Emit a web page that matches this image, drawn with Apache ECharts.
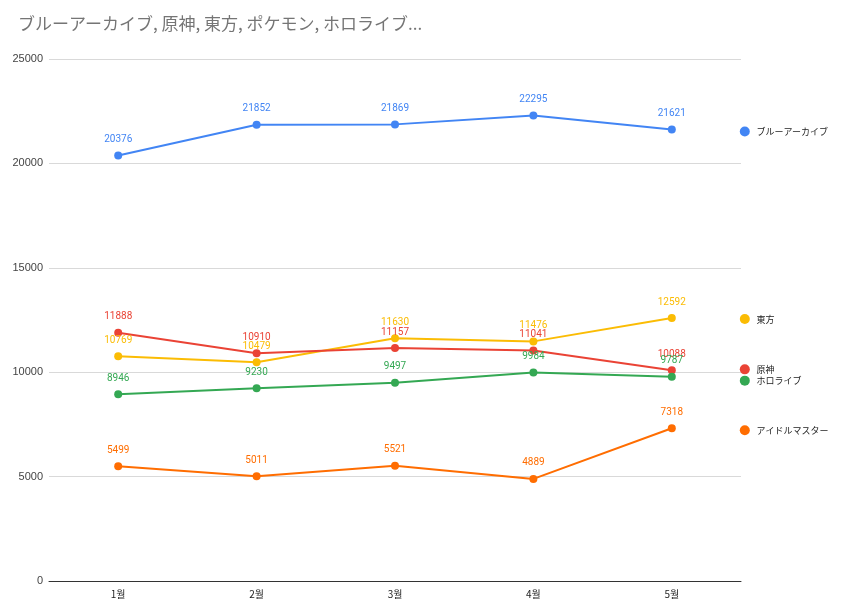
<!DOCTYPE html>
<html><head><meta charset="utf-8">
<script src="https://cdn.jsdelivr.net/npm/echarts@6/dist/echarts.min.js"></script>
<style>html,body{margin:0;padding:0;background:#fff}#c{width:850px;height:616px}</style>
</head><body><div id="c"></div>
<script>
const titleText = 'ブルーアーカイブ, 原神, 東方, ポケモン, ホロライブ...';
const categories = ['1월', '2월', '3월', '4월', '5월'];
const yTicks = [0, 5000, 10000, 15000, 20000, 25000];
const blueArchive = [20376, 21852, 21869, 22295, 21621];
const genshin = [11888, 10910, 11157, 11041, 10088];
const touhou = [10769, 10479, 11630, 11476, 12592];
const hololive = [8946, 9230, 9497, 9984, 9787];
const idolmaster = [5499, 5011, 5521, 4889, 7318];

const seriesDefs = [
  {name: 'ブルーアーカイブ', data: blueArchive, color: '#4285F4', endOffset: [0, 2]},
  {name: '東方', data: touhou, color: '#FBBC04', endOffset: [0, 1]},
  {name: '原神', data: genshin, color: '#EA4335', endOffset: [0, -1]},
  {name: 'ホロライブ', data: hololive, color: '#34A853', endOffset: [0, 4]},
  {name: 'アイドルマスター', data: idolmaster, color: '#FF6D01', endOffset: [0, 2]}
];

const chart = echarts.init(document.getElementById('c'), null, {renderer: 'canvas'});
chart.setOption({
  animation: false,
  backgroundColor: '#fff',
  title: {
    text: titleText, left: 13, top: 10,
    textStyle: {color: '#757575', fontSize: 17, fontWeight: 'normal', fontFamily: 'Noto Sans CJK JP'}
  },
  grid: {left: 49, right: 109, top: 59, bottom: 35},
  xAxis: {
    type: 'category', data: categories, boundaryGap: true,
    axisLine: {lineStyle: {color: '#333', width: 1}},
    axisTick: {show: false},
    axisLabel: {color: '#222', fontSize: 10, margin: 8, fontFamily: 'Noto Sans CJK KR'}
  },
  yAxis: {
    type: 'value', min: yTicks[0], max: yTicks[yTicks.length - 1], interval: 5000,
    axisLine: {show: false}, axisTick: {show: false},
    splitLine: {lineStyle: {color: '#d9d9d9'}},
    axisLabel: {color: '#444', fontSize: 11, margin: 6, fontFamily: 'Liberation Sans', formatter: v => String(v)}
  },
  series: seriesDefs.map(s => ({
    name: s.name, type: 'line', data: s.data,
    symbol: 'circle', symbolSize: 8,
    itemStyle: {color: s.color},
    lineStyle: {color: s.color, width: 2},
    label: {show: true, position: 'top', distance: 7, color: s.color, fontSize: 10, fontFamily: 'Roboto'},
    endLabel: {
      show: true, distance: 68, offset: s.endOffset,
      formatter: '{dot|}  {t|' + s.name + '}',
      rich: {
        dot: {width: 10, height: 10, borderRadius: 5, backgroundColor: s.color},
        t: {color: '#222', fontSize: 9, fontFamily: 'Noto Sans CJK JP'}
      }
    }
  }))
});
</script></body></html>
